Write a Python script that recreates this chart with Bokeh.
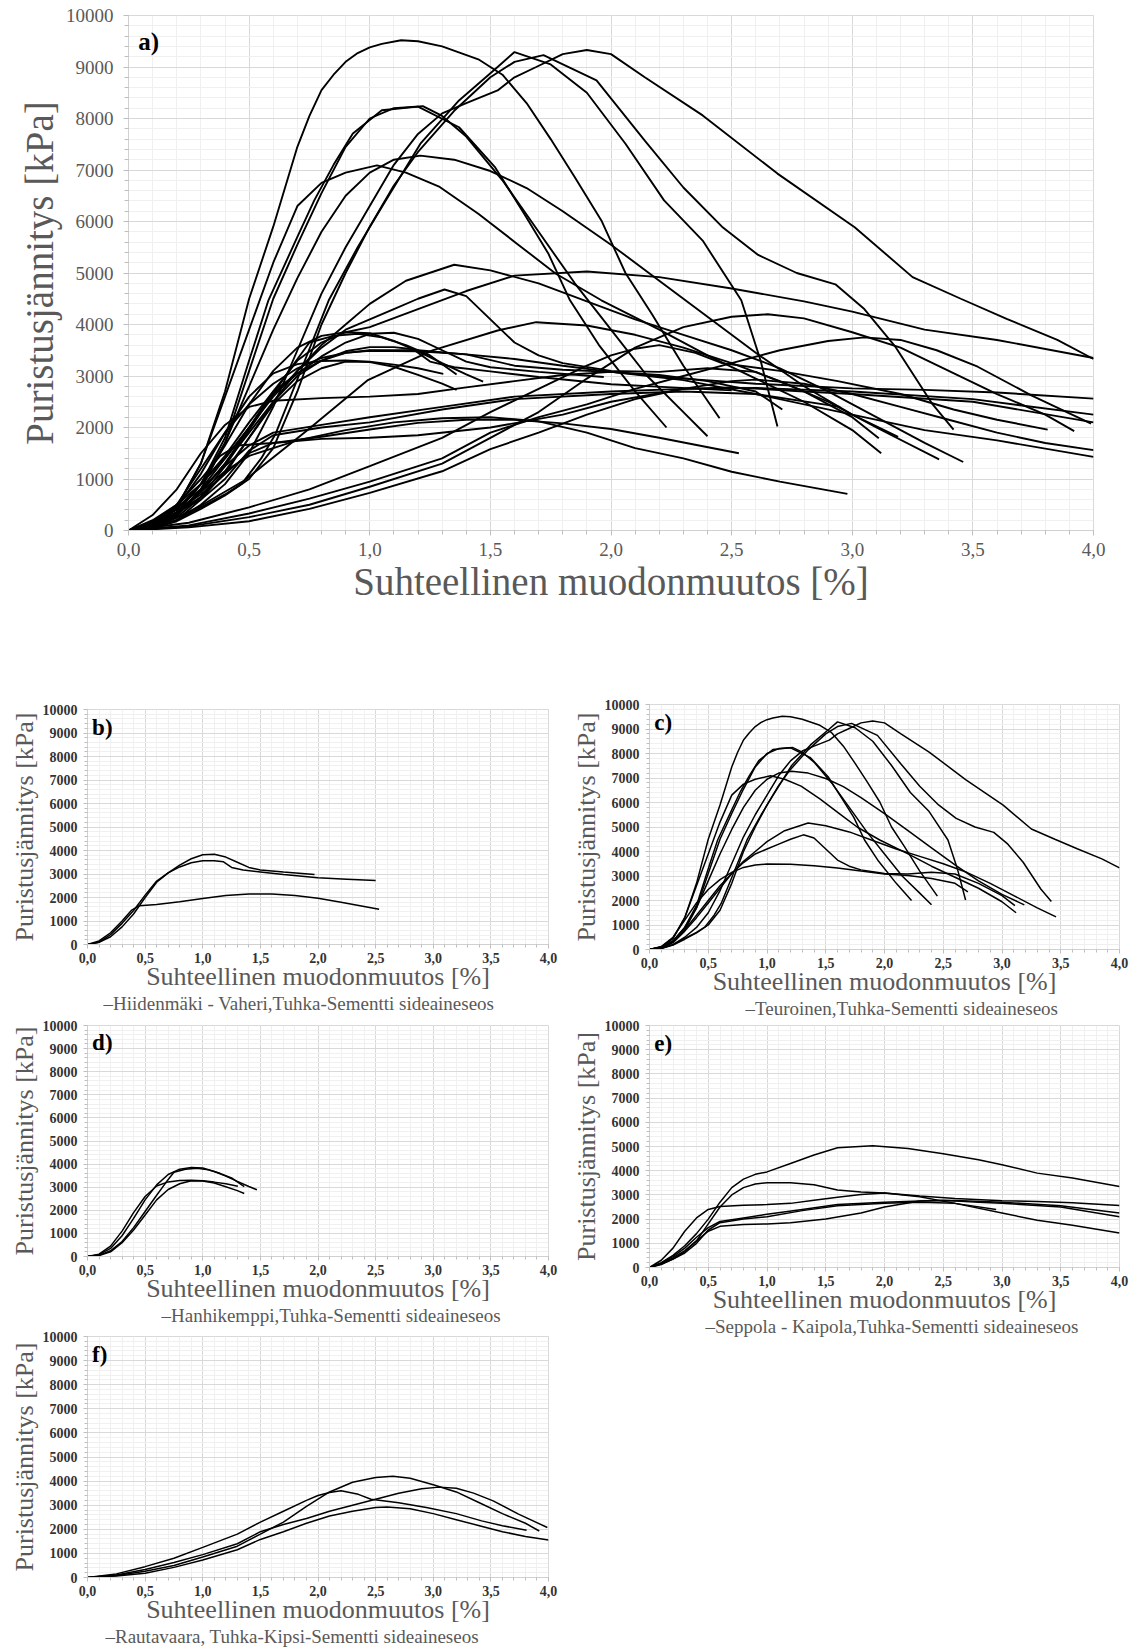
from bokeh.plotting import figure
from bokeh.models import (Range1d, FixedTicker, CustomJSTickFormatter, NumeralTickFormatter,
                          Label, Title)
from bokeh.layouts import column, row
from bokeh.embed import file_html
from bokeh.resources import INLINE

SERIF = "Liberation Serif"
X_LABEL = "Suhteellinen muodonmuutos [%]"
Y_LABEL = "Puristusjännitys [kPa]"

# axis ticks: strain every 0.5 % (minor 0.1 %), stress every 1000 kPa (minor 200 kPa)
X_MAJOR = [0.0, 0.5, 1.0, 1.5, 2.0, 2.5, 3.0, 3.5, 4.0]
X_MINOR = [round(0.1 * i, 1) for i in range(41)]
Y_MAJOR = [0, 1000, 2000, 3000, 4000, 5000, 6000, 7000, 8000, 9000, 10000]
Y_MINOR = list(range(0, 10001, 200))

# ---- Hiidenmäki - Vaheri (ash-cement binder) ----
HIIDENMAKI_STRAIN = [
    [0, 0.1, 0.2, 0.3, 0.4, 0.5, 0.6, 0.7, 0.8, 0.9, 1.0, 1.1, 1.2, 1.3, 1.4, 1.5, 1.7, 1.97],
    [0, 0.1, 0.2, 0.3, 0.4, 0.5, 0.6, 0.7, 0.8, 0.9, 1.0, 1.1, 1.18, 1.25, 1.35, 1.5, 1.7, 2.0, 2.25, 2.5],
    [0, 0.1, 0.2, 0.3, 0.38, 0.45, 0.6, 0.8, 1.0, 1.2, 1.4, 1.6, 1.8, 2.0, 2.2, 2.53],
]
HIIDENMAKI_STRESS = [
    [0, 90, 330, 750, 1300, 2000, 2650, 3050, 3380, 3650, 3820, 3840, 3720, 3500, 3280, 3170, 3080, 2980],
    [0, 100, 420, 900, 1450, 2100, 2700, 3050, 3300, 3480, 3560, 3560, 3520, 3280, 3170, 3090, 2980, 2840, 2780, 2720],
    [0, 150, 500, 1000, 1450, 1650, 1700, 1820, 1960, 2090, 2150, 2150, 2080, 1970, 1800, 1500],
]

# ---- Teuroinen (ash-cement binder) ----
TEUROINEN_STRAIN = [
    [0, 0.1, 0.2, 0.3, 0.4, 0.5, 0.6, 0.7, 0.75, 0.8, 0.85, 0.9, 0.95, 1.0, 1.05, 1.13, 1.2, 1.3, 1.45, 1.55, 1.65, 1.75, 1.85, 1.96, 2.06, 2.17, 2.3, 2.45],
    [0, 0.1, 0.2, 0.3, 0.4, 0.5, 0.58, 0.7, 0.77, 0.85, 0.93, 1.05, 1.2, 1.37, 1.52, 1.64, 1.74, 1.83, 1.95, 2.1, 2.23],
    [0, 0.1, 0.2, 0.3, 0.4, 0.5, 0.6, 0.7, 0.8, 0.9, 1.0, 1.1, 1.22, 1.3, 1.4, 1.55, 1.7, 1.85, 2.0, 2.15, 2.3, 2.4],
    [0, 0.1, 0.2, 0.3, 0.4, 0.47, 0.55, 0.61, 0.72, 0.83, 0.95, 1.05, 1.21, 1.37, 1.53, 1.6, 1.75, 1.9, 2.06, 2.22, 2.38, 2.54, 2.62, 2.69],
    [0, 0.1, 0.2, 0.3, 0.4, 0.5, 0.6, 0.7, 0.8, 0.9, 1.0, 1.1, 1.2, 1.35, 1.5, 1.6, 1.72, 1.94, 2.14, 2.3, 2.46, 2.61, 2.77, 2.93, 3.05, 3.18, 3.33, 3.42],
    [0, 0.1, 0.2, 0.3, 0.4, 0.5, 0.6, 0.7, 0.8, 0.9, 1.0, 1.1, 1.2, 1.3, 1.4, 1.53, 1.6, 1.69, 1.8, 1.9, 2.0, 2.14, 2.38, 2.69, 3.01, 3.25, 3.45, 3.64, 3.85, 4.0],
    [0, 0.1, 0.2, 0.3, 0.4, 0.5, 0.6, 0.7, 0.8, 0.9, 1.0, 1.1, 1.21, 1.35, 1.5, 1.65, 1.8, 2.0, 2.2, 2.4, 2.6, 2.8, 3.0, 3.19],
    [0, 0.1, 0.2, 0.3, 0.4, 0.5, 0.6, 0.7, 0.8, 0.9, 1.03, 1.15, 1.29, 1.45, 1.61, 1.77, 1.96, 2.2, 2.4, 2.6, 2.8, 3.0, 3.12],
    [0, 0.1, 0.2, 0.3, 0.4, 0.5, 0.6, 0.7, 0.8, 0.9, 1.0, 1.15, 1.35, 1.5, 1.7, 1.9, 2.1, 2.3, 2.5, 2.7, 2.9, 3.1, 3.3, 3.46],
    [0, 0.1, 0.2, 0.3, 0.4, 0.5, 0.6, 0.7, 0.8, 0.9, 1.0, 1.1, 1.2, 1.31, 1.4, 1.5, 1.6, 1.7, 1.8, 2.0, 2.2, 2.4, 2.6, 2.8, 3.0, 3.11],
    [0, 0.1, 0.2, 0.3, 0.4, 0.5, 0.6, 0.7, 0.8, 0.9, 1.0, 1.2, 1.4, 1.6, 1.8, 2.0, 2.2, 2.4, 2.6, 2.71],
]
TEUROINEN_STRESS = [
    [0, 100, 450, 1300, 2700, 4500, 5900, 7450, 8050, 8550, 8850, 9100, 9270, 9380, 9450, 9520, 9500, 9400, 9150, 8850, 8300, 7600, 6860, 6020, 5000, 4200, 3200, 2180],
    [0, 80, 350, 900, 1800, 3300, 4470, 5700, 6410, 7100, 7710, 8160, 8230, 7830, 7050, 6150, 5380, 4470, 3600, 2700, 2000],
    [0, 60, 300, 800, 1700, 3100, 4500, 5550, 6550, 7450, 8000, 8200, 8240, 8050, 7650, 6800, 5800, 4800, 3900, 3000, 2300, 1830],
    [0, 50, 200, 450, 700, 910, 1400, 1880, 3170, 4470, 5500, 6280, 7510, 8350, 9000, 9290, 9050, 8500, 7510, 6410, 5630, 4470, 3300, 2020],
    [0, 40, 180, 420, 680, 1000, 1600, 2700, 4000, 5000, 5900, 6700, 7350, 8150, 8800, 9100, 9230, 8740, 7570, 6660, 5900, 5350, 5000, 4780, 4300, 3560, 2470, 1960],
    [0, 50, 200, 500, 900, 1500, 2400, 3500, 4600, 5500, 6300, 7100, 7700, 8100, 8300, 8545, 8800, 9000, 9250, 9330, 9250, 8800, 8060, 6930, 5890, 4920, 4500, 4110, 3700, 3330],
    [0, 80, 350, 900, 1700, 2800, 3900, 4900, 5800, 6500, 6950, 7200, 7280, 7200, 6980, 6650, 6200, 5550, 4850, 4150, 3450, 2800, 2250, 1820],
    [0, 100, 450, 1300, 2600, 3900, 5200, 6300, 6750, 6950, 7090, 6950, 6670, 6150, 5570, 4990, 4470, 3900, 3400, 2950, 2500, 1950, 1500],
    [0, 60, 280, 750, 1300, 1900, 2500, 3100, 3600, 4000, 4400, 4850, 5160, 5050, 4800, 4450, 4100, 3800, 3500, 3150, 2700, 2200, 1700, 1330],
    [0, 70, 300, 800, 1400, 2000, 2600, 3100, 3550, 3900, 4100, 4300, 4500, 4680, 4550, 4100, 3650, 3400, 3250, 3100, 3080, 3150, 3080, 2700, 2200, 1790],
    [0, 120, 500, 1200, 1900, 2450, 2850, 3150, 3350, 3450, 3490, 3480, 3420, 3330, 3200, 3080, 3020, 2900, 2700, 2350],
]

# ---- Hanhikemppi (ash-cement binder) ----
HANHIKEMPPI_STRAIN = [
    [0, 0.1, 0.2, 0.3, 0.4, 0.5, 0.6, 0.7, 0.8, 0.9, 1.0, 1.1, 1.2, 1.3, 1.4, 1.47],
    [0, 0.1, 0.2, 0.3, 0.4, 0.5, 0.6, 0.68, 0.75, 0.85, 0.95, 1.05, 1.15, 1.25, 1.36],
    [0, 0.1, 0.2, 0.3, 0.4, 0.5, 0.6, 0.7, 0.8, 0.9, 1.0, 1.1, 1.2, 1.305],
    [0, 0.1, 0.2, 0.3, 0.4, 0.5, 0.6, 0.7, 0.8, 0.9, 1.0, 1.1, 1.2, 1.3, 1.36],
]
HANHIKEMPPI_STRESS = [
    [0, 80, 350, 900, 1650, 2450, 3100, 3550, 3780, 3850, 3830, 3680, 3480, 3250, 3030, 2890],
    [0, 50, 250, 650, 1250, 1950, 2650, 3200, 3650, 3780, 3820, 3750, 3600, 3400, 3030],
    [0, 100, 450, 1100, 1900, 2600, 3050, 3230, 3290, 3300, 3280, 3220, 3150, 3040],
    [0, 40, 200, 600, 1150, 1800, 2450, 2900, 3150, 3280, 3270, 3180, 3020, 2850, 2730],
]

# ---- Seppola - Kaipola (ash-cement binder) ----
SEPPOLA_STRAIN = [
    [0, 0.1, 0.2, 0.3, 0.4, 0.5, 0.6, 0.7, 0.8, 0.9, 1.0, 1.2, 1.4, 1.6, 1.9, 2.2, 2.5, 2.8, 3.0, 3.3, 3.6, 4.0],
    [0, 0.1, 0.2, 0.3, 0.4, 0.5, 0.6, 0.7, 0.8, 0.9, 1.0, 1.2, 1.4, 1.6, 1.8, 2.0, 2.3, 2.6, 3.0, 3.3, 3.6, 4.0],
    [0, 0.1, 0.2, 0.3, 0.4, 0.5, 0.6, 0.8, 1.0, 1.2, 1.4, 1.6, 1.8, 2.0, 2.3, 2.6, 3.0, 3.3, 3.6, 4.0],
    [0, 0.1, 0.2, 0.3, 0.4, 0.5, 0.6, 0.8, 1.0, 1.2, 1.5, 1.8, 2.0, 2.3, 2.5, 2.8, 3.0, 3.5, 4.0],
    [0, 0.1, 0.2, 0.3, 0.4, 0.5, 0.6, 0.8, 1.0, 1.3, 1.6, 2.0, 2.3, 2.6, 3.0, 3.5, 4.0],
    [0, 0.1, 0.2, 0.3, 0.4, 0.5, 0.6, 0.8, 1.0, 1.3, 1.6, 2.0, 2.3, 2.6, 2.95],
]
SEPPOLA_STRESS = [
    [0, 200, 500, 900, 1400, 2000, 2700, 3300, 3650, 3850, 3950, 4300, 4650, 4950, 5030, 4920, 4700, 4450, 4250, 3900, 3700, 3350],
    [0, 150, 350, 650, 1100, 1800, 2500, 3000, 3300, 3450, 3500, 3500, 3420, 3200, 3120, 3080, 2920, 2650, 2250, 1950, 1750, 1430],
    [0, 300, 800, 1500, 2050, 2400, 2520, 2570, 2600, 2650, 2780, 2900, 3020, 3080, 2950, 2850, 2760, 2730, 2680, 2560],
    [0, 150, 400, 700, 1100, 1500, 1700, 1780, 1800, 1850, 2000, 2250, 2500, 2750, 2780, 2700, 2650, 2500, 2100],
    [0, 180, 450, 800, 1250, 1650, 1900, 2050, 2200, 2400, 2600, 2700, 2750, 2770, 2700, 2550, 2250],
    [0, 120, 350, 600, 1000, 1550, 1850, 2000, 2100, 2350, 2550, 2650, 2700, 2650, 2400],
]

# ---- Rautavaara (ash-gypsum-cement binder) ----
RAUTAVAARA_STRAIN = [
    [0, 0.25, 0.5, 0.75, 1.0, 1.3, 1.5, 1.7, 1.9, 2.1, 2.3, 2.5, 2.65, 2.8, 3.0, 3.2, 3.4, 3.6, 3.8, 3.92],
    [0, 0.25, 0.5, 0.75, 1.0, 1.3, 1.5, 1.7, 1.9, 2.1, 2.3, 2.5, 2.7, 2.9, 3.05, 3.2, 3.35, 3.52, 3.74, 3.99],
    [0, 0.25, 0.5, 0.75, 1.0, 1.3, 1.5, 1.7, 1.9, 2.0, 2.1, 2.2, 2.35, 2.46, 2.7, 2.94, 3.2, 3.42, 3.6, 3.81],
    [0, 0.25, 0.5, 0.75, 1.0, 1.3, 1.5, 1.7, 1.9, 2.1, 2.3, 2.5, 2.6, 2.8, 3.0, 3.2, 3.4, 3.6, 3.8, 4.0],
]
RAUTAVAARA_STRESS = [
    [0, 80, 260, 500, 850, 1300, 1800, 2300, 2950, 3550, 3950, 4150, 4200, 4120, 3850, 3550, 3100, 2650, 2250, 1930],
    [0, 100, 330, 620, 950, 1400, 1900, 2200, 2450, 2750, 3000, 3250, 3500, 3680, 3750, 3700, 3500, 3180, 2630, 2075],
    [0, 150, 450, 800, 1250, 1800, 2300, 2750, 3200, 3400, 3530, 3600, 3450, 3250, 3100, 2900, 2650, 2350, 2150, 1960],
    [0, 60, 180, 420, 730, 1150, 1580, 1900, 2250, 2550, 2750, 2900, 2930, 2850, 2650, 2400, 2150, 1900, 1700, 1560],
]

# ---- further specimens shown only in the combined chart ----
OTHER_STRAIN = [
    [0, 0.1, 0.2, 0.3, 0.4, 0.5, 0.7, 0.9, 1.1, 1.3, 1.5, 1.7, 1.9, 2.1, 2.3, 2.5, 2.7, 2.98],
    [0, 0.1, 0.2, 0.3, 0.48, 0.74, 0.99, 1.26, 1.53, 1.69, 1.9, 2.1, 2.3, 2.5, 2.7, 2.9, 3.1, 3.36],
]
OTHER_STRESS = [
    [0, 100, 350, 750, 1150, 1450, 1750, 1950, 2100, 2180, 2200, 2120, 1900, 1600, 1400, 1140, 950, 712],
    [0, 80, 250, 480, 971, 1942, 2913, 3496, 3884, 4045, 3980, 3800, 3550, 3250, 2900, 2500, 2000, 1380],
]

GROUPS = [
    ("b)", "Hiidenmäki - Vaheri,Tuhka-Sementti sideaineseos", HIIDENMAKI_STRAIN, HIIDENMAKI_STRESS),
    ("c)", "Teuroinen,Tuhka-Sementti sideaineseos", TEUROINEN_STRAIN, TEUROINEN_STRESS),
    ("d)", "Hanhikemppi,Tuhka-Sementti sideaineseos", HANHIKEMPPI_STRAIN, HANHIKEMPPI_STRESS),
    ("e)", "Seppola - Kaipola,Tuhka-Sementti sideaineseos", SEPPOLA_STRAIN, SEPPOLA_STRESS),
    ("f)", "Rautavaara, Tuhka-Kipsi-Sementti sideaineseos", RAUTAVAARA_STRAIN, RAUTAVAARA_STRESS),
]


def make_panel(width, height, left, right, top, bottom, big):
    p = figure(width=width, height=height, x_range=Range1d(0, 4), y_range=Range1d(0, 10000),
               output_backend="svg", toolbar_location=None,
               min_border_left=left, min_border_right=right,
               min_border_top=top, min_border_bottom=bottom,
               x_axis_label=X_LABEL, y_axis_label=Y_LABEL)
    p.background_fill_color = "white"
    p.border_fill_color = "white"
    p.outline_line_color = "#d9d9d9"

    p.xaxis.ticker = FixedTicker(ticks=X_MAJOR, minor_ticks=X_MINOR)
    p.yaxis.ticker = FixedTicker(ticks=Y_MAJOR, minor_ticks=Y_MINOR)
    p.xaxis.formatter = CustomJSTickFormatter(code="return tick.toFixed(1).replace('.', ',');")
    p.yaxis.formatter = NumeralTickFormatter(format="0")

    for ax in (p.xaxis[0], p.yaxis[0]):
        ax.axis_line_color = "#d0d0d0"
        ax.major_tick_line_color = "#bfbfbf"
        ax.minor_tick_line_color = "#bfbfbf"
        ax.major_tick_in = 0
        ax.minor_tick_in = 0
        ax.major_label_text_font = SERIF
        ax.axis_label_text_font = SERIF
        ax.axis_label_text_font_style = "normal"
        ax.axis_label_text_color = "#595959"
        if big:
            ax.major_tick_out = 5
            ax.minor_tick_out = 4
            ax.major_label_text_font_size = "19px"
            ax.major_label_text_color = "#595959"
            ax.axis_label_text_font_size = "39px"
        else:
            ax.major_tick_out = 4
            ax.minor_tick_out = 3
            ax.major_label_text_font_size = "14px"
            ax.major_label_text_font_style = "bold"
            ax.major_label_text_color = "#333333"
            ax.axis_label_text_font_size = "26px"

    if big:
        p.xaxis.major_label_standoff = 7
        p.yaxis.major_label_standoff = 10
        p.xaxis.axis_label_standoff = 1
        p.yaxis.axis_label_standoff = 2
    else:
        p.xaxis.major_label_standoff = 4
        p.yaxis.major_label_standoff = 6
        p.xaxis.axis_label_standoff = -4
        p.yaxis.axis_label_standoff = 1

    p.xgrid.grid_line_color = "#d9d9d9"
    p.ygrid.grid_line_color = "#d9d9d9"
    p.xgrid.minor_grid_line_color = "#f0f0f0"
    p.ygrid.minor_grid_line_color = "#f0f0f0"
    return p


def panel_tag(p, text, size, y):
    p.add_layout(Label(x=0.04, y=y, text=text, text_font=SERIF, text_font_style="bold",
                       text_font_size=size, text_color="black", text_baseline="middle"))


# ---- a) all specimens together ----
pa = make_panel(1146, 640, 128, 53, 15, 110, big=True)
for _, _, xs, ys in GROUPS:
    pa.multi_line(xs=xs, ys=ys, line_color="black", line_width=1.9)
pa.multi_line(xs=OTHER_STRAIN, ys=OTHER_STRESS, line_color="black", line_width=1.9)
panel_tag(pa, "a)", "25px", 9500)

# ---- b) - f) one site each ----
# (width, height, left, right, top, bottom, series-key offset from the frame's left edge)
PANEL_BOXES = {
    "b)": (565, 378, 86, 15, 69, 74, 16),
    "c)": (581, 378, 84, 27, 64, 69, 96),
    "d)": (565, 310, 86, 4, 7, 72, 74),
    "e)": (581, 634, 82, 20, 7, 385, 56),
    "f)": (565, 324, 87, 17, 8, 75, 18),
}

panels = {}
for tag, name, xs, ys in GROUPS:
    w, h, l, r, t, b, xoff = PANEL_BOXES[tag]
    p = make_panel(w, h, l, r, t, b, big=False)
    p.multi_line(xs=xs, ys=ys, line_color="black", line_width=1.5)
    # series key line under the axis title
    p.add_layout(Title(text="\u2013" + name, align="left", offset=xoff, standoff=-5,
                       text_font=SERIF, text_font_size="19px", text_font_style="normal",
                       text_color="#595959"), "below")
    panel_tag(p, tag, "23px", 9250)
    panels[tag] = p

left_col = column(panels["b)"], panels["d)"], panels["f)"], spacing=0)
right_col = column(panels["c)"], panels["e)"], spacing=0)
page = column(pa, row(left_col, right_col, spacing=0), spacing=0)

with open("out.html", "w") as f:
    f.write(file_html(page, INLINE))
